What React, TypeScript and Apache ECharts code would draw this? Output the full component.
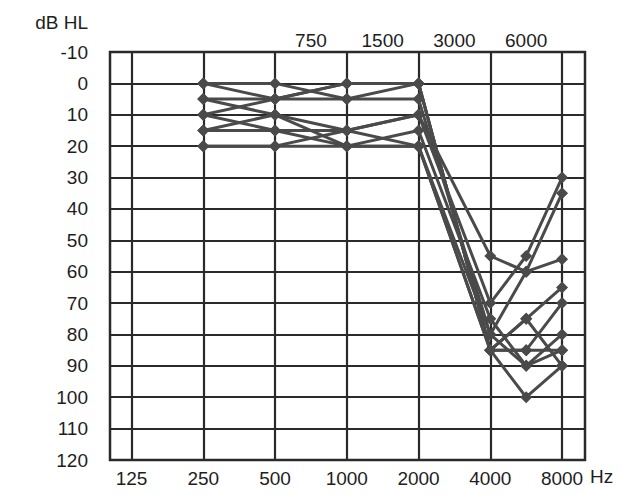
import React, { useEffect, useRef } from "react";
import * as echarts from "echarts";

// Bottom axis frequencies (Hz) and their positions on the octave scale
const bottomLabels = ["125", "250", "500", "1000", "2000", "4000", "8000"];
const bottomPos = [0, 1, 2, 3, 4, 5, 6];
// Top axis inter-octave frequencies
const topLabels = ["750", "1500", "3000", "6000"];
const topPos = [2.5, 3.5, 4.5, 5.5];

// Measured frequencies: 250, 500, 1000, 2000, 4000, 6000, 8000
const measuredPos = [1, 2, 3, 4, 5, 5.5, 6];

// Hearing thresholds (dB HL) per audiogram
const earA = [0, 0, 5, 0, 85, 75, 65];
const earB = [0, 5, 0, 0, 85, 85, 70];
const earC = [5, 5, 5, 5, 80, 90, 80];
const earD = [5, 10, 15, 10, 55, 60, 56];
const earE = [10, 5, 0, 0, 85, 100, 90];
const earF = [15, 10, 20, 20, 85, 85, 85];
const earG = [15, 15, 20, 15, 75, 90, 85];
const earH = [20, 20, 15, 10, 70, 55, 30];
const earI = [20, 20, 20, 20, 80, 60, 35];
const earJ = [10, 15, 15, 20, 85, 75, 90];

const ears = [earA, earB, earC, earD, earE, earF, earG, earH, earI, earJ];

const FONT = "Liberation Sans, Arial, sans-serif";
const INK = "#1e1e1e";
const GRID = "#2a2a2a";
const LINE = "#4a4a4a";

export default function App() {
  const ref = useRef<HTMLDivElement>(null);

  useEffect(() => {
    if (!ref.current) return;
    const chart = echarts.init(ref.current, undefined, { renderer: "svg" });

    const series = ears.map((vals, i) => ({
      name: "ear" + i,
      type: "line",
      xAxisIndex: 0,
      yAxisIndex: 0,
      data: vals.map((v, k) => [measuredPos[k], v]),
      symbol: "diamond",
      symbolSize: 12,
      lineStyle: { color: LINE, width: 3 },
      itemStyle: { color: LINE },
      z: 3,
    }));

    chart.setOption({
      animation: false,
      backgroundColor: "#ffffff",
      grid: {
        left: 110,
        top: 52,
        width: 475,
        height: 408,
        show: true,
        borderColor: GRID,
        borderWidth: 2.5,
        backgroundColor: "transparent",
      },
      xAxis: [
        {
          type: "value",
          position: "bottom",
          min: -0.3,
          max: 6.32,
          axisLine: { show: false },
          axisTick: { show: false, customValues: bottomPos },
          axisLabel: {
            customValues: bottomPos,
            formatter: (v: number) => bottomLabels[Math.round(v)] ?? "",
            color: INK,
            fontFamily: FONT,
            fontSize: 19,
            margin: 9,
          },
          splitLine: { show: true, lineStyle: { color: GRID, width: 2.2 } },
        },
        {
          type: "value",
          position: "top",
          min: -0.3,
          max: 6.32,
          axisLine: { show: false },
          axisTick: { show: false, customValues: topPos },
          axisLabel: {
            customValues: topPos,
            formatter: (v: number) => {
              const idx = topPos.indexOf(v);
              return idx >= 0 ? topLabels[idx] : "";
            },
            color: INK,
            fontFamily: FONT,
            fontSize: 19,
            margin: 2,
          },
          splitLine: { show: false },
        },
      ],
      yAxis: {
        type: "value",
        inverse: true,
        min: -10,
        max: 120,
        interval: 10,
        axisLine: { show: false },
        axisTick: { show: false },
        axisLabel: {
          color: INK,
          fontFamily: FONT,
          fontSize: 19,
          margin: 22,
        },
        splitLine: { show: true, lineStyle: { color: GRID, width: 2.2 } },
      },
      graphic: [
        {
          type: "text",
          right: 620 - 88,
          top: 13,
          style: { text: "dB HL", fill: INK, font: `19px ${FONT}`, textAlign: "right" },
        },
        {
          type: "text",
          left: 590,
          top: 467,
          style: { text: "Hz", fill: INK, font: `19px ${FONT}` },
        },
      ],
      series,
    });

    return () => chart.dispose();
  }, []);

  return (
    <div
      ref={ref}
      style={{ position: "fixed", left: 0, top: 0, width: 620, height: 495 }}
    />
  );
}
